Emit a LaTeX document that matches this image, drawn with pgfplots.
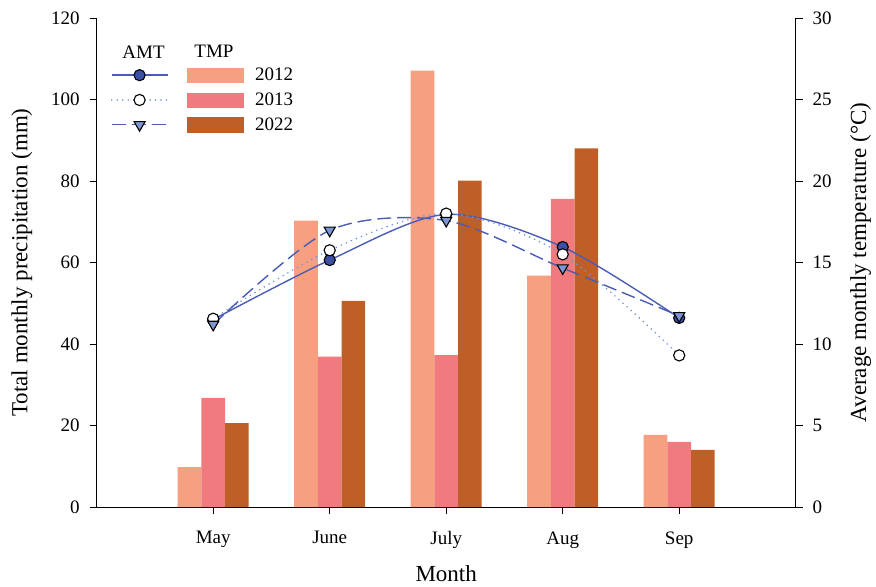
\documentclass[border=0pt]{standalone}
\usepackage{fontspec}
\setmainfont{Liberation Serif}
\usepackage{pgfplots}
\pgfplotsset{compat=1.18}

\definecolor{p12}{HTML}{F6A081}
\definecolor{p13}{HTML}{F07A7E}
\definecolor{p22}{HTML}{BD5F27}
\definecolor{lineblue}{HTML}{4A5CB4}
\definecolor{dotblue}{HTML}{7393DC}
\definecolor{markdark}{HTML}{3B4FA5}
\definecolor{marklight}{HTML}{7D95D2}

\newcommand\tickfont{\fontsize{19bp}{22bp}\selectfont}
\newcommand\labfont{\fontsize{23bp}{27bp}\selectfont}

% line styles for the average monthly temperature series
\tikzset{
  amt12/.style={draw=lineblue, color=lineblue, line width=1.4pt, solid, smooth, mark=*, mark size=5.6bp,
    mark options={solid, fill=markdark, draw=black, line width=1.1pt}},
  amt13/.style={draw=dotblue, color=dotblue, line width=1.8pt, line cap=round, dash pattern=on 0pt off 5.5pt, smooth,
    mark=*, mark size=5.6bp, mark options={solid, fill=white, draw=black, line width=1.1pt}},
  amt22/.style={draw=lineblue, color=lineblue, line width=1.4pt, dash pattern=on 14pt off 6pt, smooth,
    mark=triangle*, mark size=6.4bp, mark options={solid, rotate=180, fill=marklight, draw=black, line width=1.1pt}},
}

\pgfplotsset{
  base/.style={at={(0,0)}, anchor=south west, scale only axis,
    width=699bp, height=489bp, xmin=0, xmax=6,
    tick align=outside, major tick length=7bp,
    tick style={black, line width=0.9pt},
    axis line style={black, line width=0.9pt},
    /pgf/number format/assume math mode=true,
    tick label style={font=\tickfont}},
}

\begin{document}
\begin{tikzpicture}
% precipitation bars (left axis)
\begin{axis}[base,
  ymin=0, ymax=120,
  axis x line*=bottom, axis y line*=left,
  xtick={1,2,3,4,5}, xticklabels={May,June,July,Aug,Sep},
  ytick={0,20,...,120},
  yticklabel style={xshift=-6.5bp},
  xticklabel style={yshift=-14bp},
  xlabel={Month},
  ylabel={Total monthly precipitation (mm)},
  every axis x label/.style={at={(axis description cs:0.5,-0.136)}, anchor=center, font=\labfont},
  every axis y label/.style={at={(axis description cs:-0.107,0.5)}, rotate=90, anchor=center, font=\labfont},
]
\addplot[ybar, bar width=0.203, bar shift=-0.203, fill=p12, draw=none]
  coordinates {(1,9.8) (2,70.3) (3,107.1) (4,56.8) (5,17.7)};
\addplot[ybar, bar width=0.203, bar shift=0, fill=p13, draw=none]
  coordinates {(1,26.8) (2,36.9) (3,37.3) (4,75.6) (5,16.0)};
\addplot[ybar, bar width=0.203, bar shift=0.203, fill=p22, draw=none]
  coordinates {(1,20.6) (2,50.6) (3,80.1) (4,88.0) (5,14.0)};
\end{axis}

% temperature lines (right axis)
\begin{axis}[base,
  ymin=0, ymax=30,
  axis y line*=right, axis x line=none,
  ytick={0,5,...,30},
  yticklabel style={xshift=6.5bp},
  ylabel={Average monthly temperature (°C)},
  every axis y label/.style={at={(axis description cs:1.093,0.5)}, rotate=90, anchor=center, font=\labfont},
  legend columns=2,
  legend style={at={(axis description cs:0.0200,0.9086)}, anchor=north west,
    draw=none, fill=none, inner sep=0pt, column sep=0pt, row sep=0pt,
    font=\tickfont, nodes={inner sep=0pt, anchor=west}},
  legend image code/.code={
    \draw[mark repeat=2, mark phase=2, #1] plot coordinates {(0bp,0bp) (27.8bp,0bp) (55.6bp,0bp)};
    \path (0bp,-11.6bp) (0bp,11.6bp);},
]
\addplot[amt12, forget plot] coordinates {(1,11.5) (2,15.15) (3,17.95) (4,15.95) (5,11.6)};
\addplot[amt13, forget plot] coordinates {(1,11.55) (2,15.75) (3,18.0) (4,15.5) (5,9.3)};
\addplot[amt22, forget plot] coordinates {(1,11.2) (2,16.97) (3,17.57) (4,14.66) (5,11.73)};

\addlegendimage{amt12}\addlegendentry{\null}
\addlegendimage{legend image code/.code={\fill[p12] (17.4bp,-7.15bp) rectangle (73.4bp,7.15bp); \path (0bp,-11.6bp) (85.4bp,11.6bp);}}
\addlegendentry{2012}
\addlegendimage{amt13}\addlegendentry{\null}
\addlegendimage{legend image code/.code={\fill[p13] (17.4bp,-7.15bp) rectangle (73.4bp,7.15bp); \path (0bp,-11.6bp) (85.4bp,11.6bp);}}
\addlegendentry{2013}
\addlegendimage{amt22}\addlegendentry{\null}
\addlegendimage{legend image code/.code={\fill[p22] (17.4bp,-7.15bp) rectangle (73.4bp,7.15bp); \path (0bp,-11.6bp) (85.4bp,11.6bp);}}
\addlegendentry{2022}

\node[font=\tickfont] at (axis description cs:0.067,0.931) {AMT};
\node[font=\tickfont] at (axis description cs:0.1678,0.931) {TMP};
\end{axis}

\pgfresetboundingbox
\path (-96.7bp,-80bp) rectangle (779.3bp,507bp);
\end{tikzpicture}
\end{document}
